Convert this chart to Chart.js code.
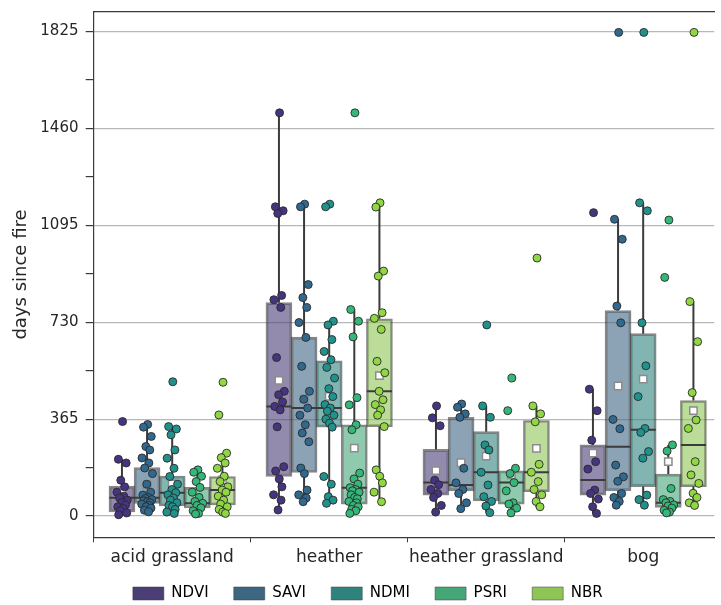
<!DOCTYPE html>
<html>
<head>
<meta charset="utf-8">
<title>days since fire</title>
<script src="https://cdn.jsdelivr.net/npm/chart.js@4.4.1/dist/chart.umd.min.js"></script>
<style>
  html, body { margin: 0; padding: 0; background: #fff; overflow: hidden; }
  #wrap { width: 721px; height: 605px; position: relative; }
</style>
</head>
<body>
<div id="wrap"><canvas id="fireChart"></canvas></div>
<script>
var categories = ['acid grassland', 'heather', 'heather grassland', 'bog'];
var indices = ['NDVI', 'SAVI', 'NDMI', 'PSRI', 'NBR'];
var yTicks = [0, 365, 730, 1095, 1460, 1825];

// box statistics: one row per index, one column per category
var boxQ1 = [
  [16, 149, 79, 79],
  [48, 164, 95, 95],
  [38, 335, 57, 111],
  [31, 45, 45, 33],
  [42, 337, 92, 111]
];
var boxMedian = [
  [69, 413, 126, 136],
  [69, 407, 117, 261],
  [88, 407, 165, 325],
  [48, 107, 126, 50],
  [98, 470, 165, 268]
];
var boxQ3 = [
  [113, 804, 251, 268],
  [183, 674, 372, 774],
  [151, 585, 318, 687],
  [108, 344, 170, 158],
  [149, 743, 360, 435]
];
var whiskerLow = [
  [5, 23, 13, 10],
  [16, 54, 29, 41],
  [10, 48, 13, 41],
  [8, 10, 10, 10],
  [10, 54, 33, 41]
];
var whiskerHigh = [
  [214, 1519, 415, 478],
  [345, 1169, 422, 1118],
  [337, 734, 415, 1180],
  [174, 778, 175, 268],
  [237, 1169, 415, 808]
];
var boxMean = [
  [86, 511, 171, 237],
  [117, 441, 201, 490],
  [121, 451, 226, 516],
  [69, 256, 155, 205],
  [136, 529, 255, 397]
];

// individual sites (days since fire), per category
var ndviPoints = [
  [356, 214, 200, 135, 110, 90, 75, 68, 60, 50, 42, 35, 28, 20, 12, 5],
  [1519, 1165, 1150, 1140, 831, 815, 786, 597, 470, 457, 430, 413, 400, 336, 186, 170, 140, 110, 80, 60, 23],
  [415, 370, 340, 135, 118, 100, 85, 70, 40, 15],
  [1143, 478, 397, 286, 205, 177, 98, 85, 64, 35, 10]
];
var saviPoints = [
  [345, 335, 300, 262, 249, 219, 200, 181, 160, 120, 90, 79, 70, 66, 62, 58, 54, 50, 45, 40, 35, 30, 22, 16],
  [1175, 1165, 872, 823, 786, 729, 673, 564, 470, 440, 407, 380, 344, 313, 280, 181, 160, 98, 80, 68, 54],
  [422, 410, 385, 372, 180, 125, 100, 85, 50, 28],
  [1822, 1118, 1043, 791, 728, 364, 329, 192, 148, 131, 85, 70, 55, 41]
];
var ndmiPoints = [
  [506, 337, 328, 306, 249, 218, 180, 149, 120, 100, 88, 80, 68, 60, 50, 40, 35, 25, 15, 10],
  [1175, 1165, 734, 720, 665, 620, 589, 560, 520, 480, 450, 420, 407, 395, 380, 365, 350, 335, 149, 120, 73, 60, 48],
  [720, 415, 372, 268, 249, 165, 117, 73, 55, 38, 13],
  [1822, 1180, 1150, 728, 566, 450, 330, 315, 243, 218, 79, 62, 41]
];
var psriPoints = [
  [174, 165, 150, 130, 108, 90, 70, 55, 48, 40, 31, 20, 10, 8],
  [1519, 778, 734, 675, 446, 419, 344, 325, 162, 140, 120, 107, 100, 95, 90, 80, 70, 65, 55, 50, 40, 35, 25, 20, 10],
  [520, 397, 180, 160, 126, 95, 50, 45, 30, 12],
  [1115, 899, 268, 245, 104, 62, 55, 50, 42, 38, 30, 22, 15, 12]
];
var nbrPoints = [
  [504, 381, 237, 220, 200, 180, 150, 130, 110, 98, 90, 75, 60, 45, 35, 25, 15, 10],
  [1180, 1164, 923, 904, 766, 745, 703, 583, 540, 470, 438, 420, 400, 380, 337, 174, 150, 125, 90, 54],
  [972, 415, 385, 355, 195, 165, 130, 100, 80, 55, 35],
  [1822, 808, 657, 465, 362, 330, 205, 155, 123, 86, 70, 50, 40]
];
var sitePoints = [ndviPoints, saviPoints, ndmiPoints, psriPoints, nbrPoints];

// viridis colours, plus the greyed-down version used for the boxes
var pointColors = ['#463480', '#31688e', '#21918c', '#35b779', '#90d743'];
var boxColors = ['#4b3e77', '#3d6682', '#2f837f', '#45a778', '#8fc556'];

// fixed strip spread, as a fraction of the max jitter
var jitter = [0.1, -0.6, 0.7, -0.2, 0.45, -0.85, 0.3, -0.4, 0.9, -0.05, 0.6, -0.7, 0.2,
              -0.3, 0.8, -0.55, 0.05, 0.5, -0.9, 0.35, -0.15, 0.65, -0.45, 0.25, -0.75];
var DODGE = 0.16;
var HALF_BOX = 0.08;
var JITTER_W = 0.038;

function rgba(hex, a) {
  var n = parseInt(hex.slice(1), 16);
  return 'rgba(' + (n >> 16) + ',' + ((n >> 8) & 255) + ',' + (n & 255) + ',' + a + ')';
}
function boxX(j, i) { return i + (j - 2) * DODGE; }

var datasets = [];
var whiskerData = [];
var meanData = [];

indices.forEach(function (name, j) {
  datasets.push({
    type: 'bar',
    label: name,
    data: categories.map(function (c, i) {
      return {x: boxX(j, i), y: [boxQ1[j][i], boxQ3[j][i]]};
    }),
    backgroundColor: rgba(boxColors[j], 0.6),
    borderColor: 'rgba(55,55,55,0.6)',
    borderWidth: 2,
    borderSkipped: false,
    barThickness: 26,
    grouped: false,
    xAxisID: 'x',
    order: 4
  });

  categories.forEach(function (c, i) {
    var x = boxX(j, i);
    whiskerData.push({x: x, y: whiskerLow[j][i]}, {x: x, y: boxQ1[j][i]}, {x: x, y: null});
    whiskerData.push({x: x, y: boxQ3[j][i]}, {x: x, y: whiskerHigh[j][i]}, {x: x, y: null});
    whiskerData.push({x: x - HALF_BOX, y: boxMedian[j][i]}, {x: x + HALF_BOX, y: boxMedian[j][i]}, {x: x, y: null});
    meanData.push({x: x, y: boxMean[j][i]});
  });
});

datasets.push({
  type: 'line',
  label: 'whiskers',
  data: whiskerData,
  borderColor: '#3b3b3b',
  borderWidth: 2,
  pointRadius: 0,
  spanGaps: false,
  tension: 0,
  xAxisID: 'x',
  order: 3
});

datasets.push({
  type: 'scatter',
  label: 'mean',
  data: meanData,
  pointStyle: 'rect',
  pointRadius: 5.2,
  backgroundColor: '#ffffff',
  borderColor: '#8c8c8c',
  borderWidth: 1.5,
  xAxisID: 'x',
  order: 2
});

indices.forEach(function (name, j) {
  var pts = [];
  categories.forEach(function (c, i) {
    sitePoints[j][i].forEach(function (v, k) {
      pts.push({x: boxX(j, i) + jitter[k % jitter.length] * JITTER_W, y: v});
    });
  });
  datasets.push({
    type: 'scatter',
    label: name + ' sites',
    data: pts,
    backgroundColor: pointColors[j],
    borderColor: '#2a2a2a',
    borderWidth: 0.9,
    pointRadius: 4,
    xAxisID: 'x',
    order: 1
  });
});

Chart.defaults.font.family = 'DejaVu Sans';
Chart.defaults.font.size = 15;
Chart.defaults.color = '#262626';

var frame = {display: true, color: '#3a3a3a', width: 1.2};

new Chart(document.getElementById('fireChart'), {
  type: 'bar',
  data: {datasets: datasets},
  options: {
    responsive: true,
    maintainAspectRatio: false,
    animation: false,
    events: [],
    layout: {padding: {top: 11.7, left: 22, right: 0, bottom: 0}},
    scales: {
      x: {
        type: 'linear',
        position: 'bottom',
        min: -0.5,
        max: 3.453,
        offset: false,
        afterBuildTicks: function (scale) {
          scale.ticks = categories.map(function (c, i) { return {value: i}; });
        },
        afterFit: function (scale) { scale.height = 31; },
        ticks: {
          autoSkip: false,
          maxRotation: 0,
          padding: 7,
          font: {size: 17, lineHeight: 1.0},
          callback: function (v) { return categories[v]; }
        },
        grid: {drawOnChartArea: false, drawTicks: true, tickLength: 5, color: '#3a3a3a'},
        border: frame
      },
      xTop: {
        type: 'linear',
        position: 'top',
        min: -0.5,
        max: 3.453,
        ticks: {display: false},
        grid: {display: false, drawTicks: false},
        border: frame
      },
      y: {
        type: 'linear',
        min: -80,
        max: 1900,
        afterFit: function (scale) { scale.width = 71.7; },
        // majors every 365 days, an unlabelled minor tick half way between
        afterBuildTicks: function (scale) {
          var t = [];
          yTicks.forEach(function (v, i) {
            t.push({value: v});
            if (i < yTicks.length - 1) t.push({value: (v + yTicks[i + 1]) / 2});
          });
          scale.ticks = t;
        },
        ticks: {
          padding: 7.2,
          font: {size: 15, lineHeight: 0.6},
          callback: function (v) { return yTicks.indexOf(v) >= 0 ? String(v) : ''; }
        },
        grid: {
          color: function (ctx) {
            return ctx.tick && yTicks.indexOf(ctx.tick.value) >= 0 ? '#b8b8b8' : 'rgba(0,0,0,0)';
          },
          tickColor: '#3a3a3a',
          lineWidth: 1.2,
          tickLength: 8
        },
        border: frame,
        title: {
          display: true,
          text: 'days since fire',
          font: {size: 18},
          padding: {top: -11.8, bottom: 0}
        }
      }
    },
    plugins: {
      tooltip: {enabled: false},
      legend: {
        position: 'bottom',
        maxHeight: 36.7,
        labels: {
          boxWidth: 31,
          boxHeight: 13,
          padding: 17.7,
          color: '#262626',
          generateLabels: function () {
            return indices.map(function (name, j) {
              return {
                // en space keeps the column gap wider than the row gap
                text: name + '\u2002',
                fillStyle: boxColors[j],
                strokeStyle: 'rgba(60,60,60,0.5)',
                lineWidth: 1,
                hidden: false,
                datasetIndex: j
              };
            });
          }
        }
      }
    }
  }
});
</script>
</body>
</html>
